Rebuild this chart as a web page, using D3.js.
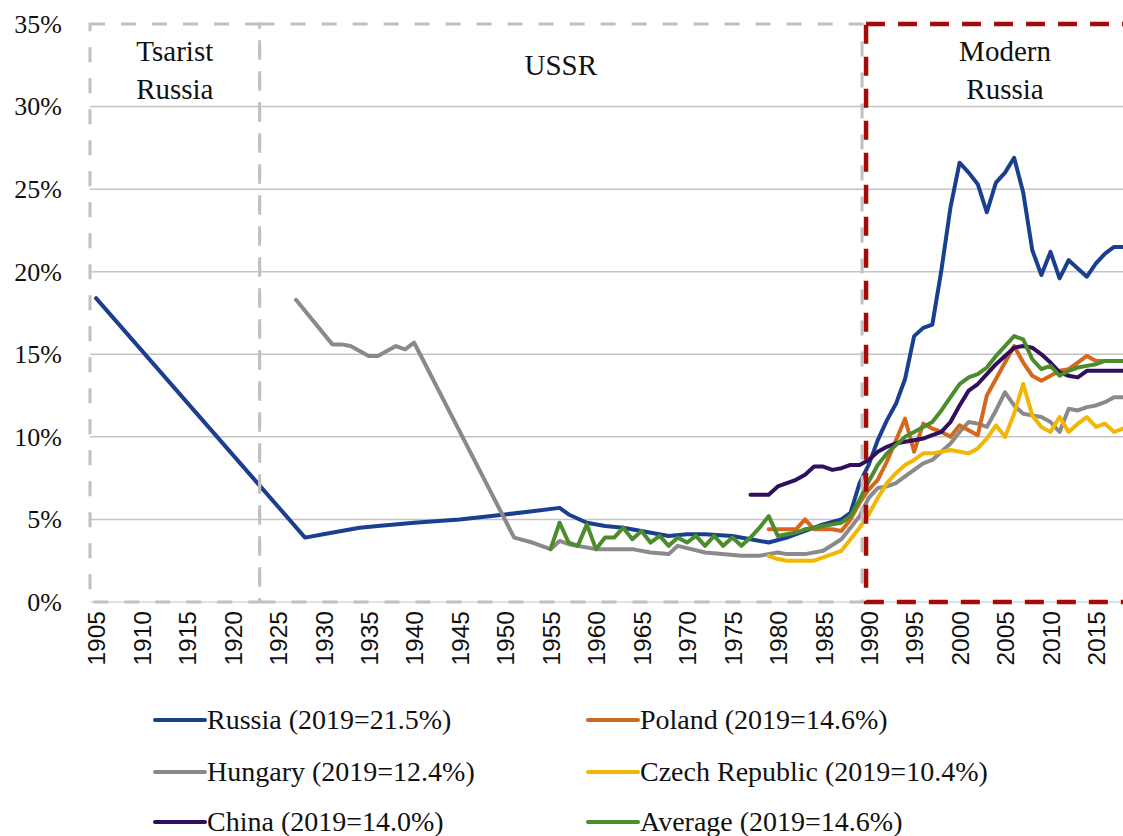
<!DOCTYPE html>
<html>
<head>
<meta charset="utf-8">
<script src="https://cdn.jsdelivr.net/npm/d3@7"></script>
<style>
  html, body { margin: 0; padding: 0; background: #fff; }
  svg { display: block; }
</style>
</head>
<body>
<svg id="chart"></svg>
<script>
// values in % of GDP
var russia = [[1905,18.4],[1928,3.9],[1930,4.1],[1932,4.3],[1934,4.5],[1936,4.6],[1940,4.8],[1945,5.0],[1950,5.3],[1953,5.5],[1956,5.7],[1957,5.3],[1959,4.8],[1961,4.6],[1963,4.5],[1965,4.3],[1968,4.0],[1970,4.1],[1972,4.1],[1975,4.0],[1977,3.8],[1979,3.6],[1981,3.9],[1983,4.3],[1985,4.7],[1987,5.0],[1988,5.4],[1989,7.2],[1990,8.3],[1991,9.8],[1992,11.0],[1993,12.0],[1994,13.5],[1995,16.1],[1996,16.6],[1997,16.8],[1998,20.1],[1999,23.9],[2000,26.6],[2001,26.0],[2002,25.3],[2003,23.6],[2004,25.4],[2005,26.0],[2006,26.9],[2007,24.8],[2008,21.3],[2009,19.8],[2010,21.2],[2011,19.6],[2012,20.7],[2013,20.2],[2014,19.7],[2015,20.5],[2016,21.1],[2017,21.5],[2018,21.5],[2019,21.5]];
var hungary = [[1927,18.3],[1931,15.6],[1932,15.6],[1933,15.5],[1935,14.9],[1936,14.9],[1938,15.5],[1939,15.3],[1940,15.7],[1951,3.9],[1953,3.6],[1955,3.2],[1956,3.7],[1957,3.5],[1960,3.2],[1964,3.2],[1966,3.0],[1968,2.9],[1969,3.4],[1972,3.0],[1976,2.8],[1978,2.8],[1980,3.0],[1981,2.9],[1983,2.9],[1985,3.1],[1987,3.8],[1988,4.5],[1989,5.2],[1990,6.3],[1991,6.9],[1992,7.0],[1993,7.2],[1994,7.6],[1995,8.0],[1996,8.4],[1997,8.6],[1998,9.1],[1999,9.6],[2000,10.3],[2001,10.9],[2002,10.8],[2003,10.6],[2004,11.6],[2005,12.7],[2006,11.9],[2007,11.4],[2008,11.3],[2009,11.2],[2010,10.9],[2011,10.3],[2012,11.7],[2013,11.6],[2014,11.8],[2015,11.9],[2016,12.1],[2017,12.4],[2018,12.4],[2019,12.4]];
var poland = [[1979,4.4],[1980,4.4],[1981,4.4],[1982,4.4],[1983,5.0],[1984,4.4],[1985,4.4],[1986,4.4],[1987,4.3],[1988,5.0],[1989,6.0],[1990,6.8],[1991,7.4],[1992,8.5],[1993,9.8],[1994,11.1],[1995,9.1],[1996,10.8],[1997,10.5],[1998,10.3],[1999,10.0],[2000,10.7],[2001,10.4],[2002,10.1],[2003,12.5],[2004,13.5],[2005,14.5],[2006,15.5],[2007,14.5],[2008,13.7],[2009,13.4],[2010,13.7],[2011,14.0],[2012,14.1],[2013,14.5],[2014,14.9],[2015,14.6],[2016,14.6],[2017,14.6],[2018,14.6],[2019,14.6]];
var czech = [[1979,2.8],[1980,2.6],[1981,2.5],[1982,2.5],[1983,2.5],[1984,2.5],[1985,2.7],[1986,2.9],[1987,3.1],[1988,3.8],[1989,4.5],[1990,5.3],[1991,6.3],[1992,7.2],[1993,7.8],[1994,8.3],[1995,8.6],[1996,9.0],[1997,9.0],[1998,9.1],[1999,9.2],[2000,9.1],[2001,9.0],[2002,9.3],[2003,9.9],[2004,10.7],[2005,10.0],[2006,11.4],[2007,13.2],[2008,11.3],[2009,10.6],[2010,10.3],[2011,11.2],[2012,10.3],[2013,10.8],[2014,11.2],[2015,10.6],[2016,10.8],[2017,10.3],[2018,10.5],[2019,10.4]];
var china = [[1977,6.5],[1978,6.5],[1979,6.5],[1980,7.0],[1981,7.2],[1982,7.4],[1983,7.7],[1984,8.2],[1985,8.2],[1986,8.0],[1987,8.1],[1988,8.3],[1989,8.3],[1990,8.6],[1991,9.1],[1992,9.4],[1993,9.6],[1994,9.7],[1995,9.8],[1996,9.9],[1997,10.1],[1998,10.3],[1999,10.9],[2000,11.9],[2001,12.8],[2002,13.2],[2003,13.8],[2004,14.4],[2005,14.9],[2006,15.4],[2007,15.5],[2008,15.4],[2009,15.0],[2010,14.5],[2011,13.9],[2012,13.7],[2013,13.6],[2014,14.0],[2015,14.0],[2016,14.0],[2017,14.0],[2018,14.0],[2019,14.0]];
var average = [[1955,3.2],[1956,4.8],[1957,3.6],[1958,3.4],[1959,4.7],[1960,3.2],[1961,3.9],[1962,3.9],[1963,4.5],[1964,3.8],[1965,4.3],[1966,3.6],[1967,4.0],[1968,3.4],[1969,3.9],[1970,3.6],[1971,4.0],[1972,3.4],[1973,4.0],[1974,3.4],[1975,3.9],[1976,3.4],[1977,3.9],[1978,4.5],[1979,5.2],[1980,4.0],[1981,4.1],[1982,4.2],[1983,4.4],[1984,4.5],[1985,4.6],[1986,4.7],[1987,4.8],[1988,5.2],[1989,6.2],[1990,7.3],[1991,8.3],[1992,9.0],[1993,9.5],[1994,10.0],[1995,10.3],[1996,10.6],[1997,10.9],[1998,11.6],[1999,12.4],[2000,13.2],[2001,13.6],[2002,13.8],[2003,14.2],[2004,14.9],[2005,15.5],[2006,16.1],[2007,15.9],[2008,14.7],[2009,14.1],[2010,14.3],[2011,13.7],[2012,14.0],[2013,14.2],[2014,14.3],[2015,14.4],[2016,14.6],[2017,14.6],[2018,14.6],[2019,14.6]];

var seriesNames = ["Russia", "Poland", "Hungary", "Czech Republic", "China", "Average"];
var seriesLast = ["21.5%", "14.6%", "12.4%", "10.4%", "14.0%", "14.6%"];
var seriesColors = ["#1b3f8f", "#d4681e", "#8a8a8a", "#f2b705", "#2f0f5e", "#4d8c2c"];
var seriesData = [russia, poland, hungary, czech, china, average];
var drawOrder = [0, 2, 3, 1, 4, 5];

var yearTicks = d3.range(1905, 2016, 5);
var pctTicks = [0, 5, 10, 15, 20, 25, 30, 35];

var periodNames = [["Tsarist", "Russia"], ["USSR"], ["Modern", "Russia"]];
var periodStart = [1904.34, 1923.0, 1989.71];
var periodEnd = [1923.0, 1989.27, 2020.5];

var W = 1123, H = 836;
var svg = d3.select("#chart").attr("width", W).attr("height", H);

var x = d3.scaleLinear().domain([1905, 2019]).range([96, 1132.3]);
var y = d3.scaleLinear().domain([0, 35]).range([602, 24]);
var plotLeft = x(1904.34), plotRight = W;

// grid
svg.append("g")
    .selectAll("line")
    .data(pctTicks.filter(d => d > 0 && d < 35))
    .join("line")
    .attr("x1", plotLeft).attr("x2", plotRight)
    .attr("y1", d => y(d)).attr("y2", d => y(d))
    .attr("stroke", "#c4c4c4")
    .attr("stroke-width", 1.5);

svg.append("line")
    .attr("x1", plotLeft).attr("x2", plotRight)
    .attr("y1", y(0)).attr("y2", y(0))
    .attr("stroke", "#c4c4c4").attr("stroke-width", 1);

// y axis labels
var yAxis = g => g
    .attr("transform", `translate(62,0)`)
    .call(d3.axisLeft(y).tickValues(pctTicks).tickSize(0).tickPadding(0).tickFormat(d => d + "%"))
    .call(g => g.select(".domain").remove())
    .call(g => g.selectAll("text")
        .attr("font-family", "'Liberation Serif', serif")
        .attr("font-size", 26)
        .attr("fill", "#111"));
svg.append("g").call(yAxis);

// x axis labels, rotated
var xAxis = g => g
    .attr("transform", `translate(0,${y(0)})`)
    .call(d3.axisBottom(x).tickValues(yearTicks).tickSize(0).tickFormat(d3.format("d")))
    .call(g => g.select(".domain").remove())
    .call(g => g.selectAll("text")
        .attr("font-family", "'Liberation Sans', Arial, sans-serif")
        .attr("font-size", 24.5)
        .attr("fill", "#111")
        .attr("text-anchor", "end")
        .attr("transform", "rotate(-90)")
        .attr("x", -9)
        .attr("y", 0)
        .attr("dy", "0.36em"));
svg.append("g").call(xAxis);

// series
var line = d3.line()
    .x(d => x(d[0]))
    .y(d => y(d[1]));

svg.append("g")
    .selectAll("path")
    .data(drawOrder)
    .join("path")
    .attr("fill", "none")
    .attr("stroke", i => seriesColors[i])
    .attr("stroke-width", 4)
    .attr("stroke-linejoin", "round")
    .attr("stroke-linecap", "round")
    .attr("d", i => line(seriesData[i]));

// period frames
var frames = svg.append("g");
[0, 1].forEach(i => {
    frames.append("rect")
        .attr("x", x(periodStart[i])).attr("y", y(35))
        .attr("width", x(periodEnd[i]) - x(periodStart[i]))
        .attr("height", y(0) - y(35))
        .attr("fill", "none")
        .attr("stroke", "#c0c0c0")
        .attr("stroke-width", 3)
        .attr("stroke-dasharray", "15,16");
});
frames.append("rect")
    .attr("x", x(periodStart[2])).attr("y", y(35))
    .attr("width", x(periodEnd[2]) - x(periodStart[2]))
    .attr("height", y(0) - y(35))
    .attr("fill", "none")
    .attr("stroke", "#a30b0b")
    .attr("stroke-width", 4.5)
    .attr("stroke-dasharray", "19,13");

// period labels
periodNames.forEach((lines, i) => {
    var cx = x((periodStart[i] + periodEnd[i]) / 2);
    if (i == 2) cx = x(2005);
    var t = svg.append("text")
        .attr("text-anchor", "middle")
        .attr("font-family", "'Liberation Serif', serif")
        .attr("font-size", 29)
        .attr("fill", "#111");
    if (lines.length == 1) {
        t.append("tspan").attr("x", cx).attr("y", 75).text(lines[0]);
    } else {
        t.append("tspan").attr("x", cx).attr("y", 61).text(lines[0]);
        t.append("tspan").attr("x", cx).attr("y", 99).text(lines[1]);
    }
});

// legend
var legendCols = [155, 588];
var legendRows = [729, 781, 831];
var legend = svg.append("g")
    .selectAll("g")
    .data(seriesNames)
    .join("g")
    .attr("transform", (d, i) => `translate(${legendCols[i % 2]},${legendRows[Math.floor(i / 2)]})`);

legend.append("line")
    .attr("x1", 0).attr("x2", 50)
    .attr("y1", -9).attr("y2", -9)
    .attr("stroke", (d, i) => seriesColors[i])
    .attr("stroke-width", 4)
    .attr("stroke-linecap", "round");

legend.append("text")
    .attr("x", 52)
    .attr("font-family", "'Liberation Serif', serif")
    .attr("font-size", 28)
    .attr("fill", "#111")
    .text((d, i) => d + " (2019=" + seriesLast[i] + ")");
</script>
</body>
</html>
